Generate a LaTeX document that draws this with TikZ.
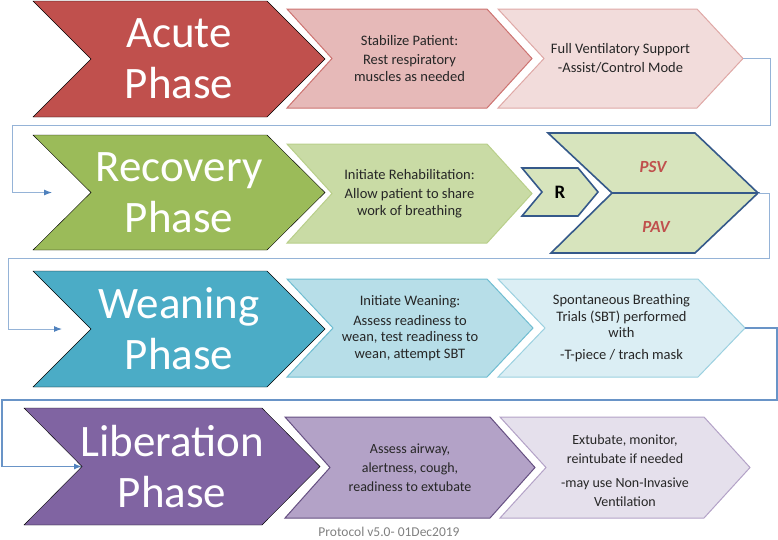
\documentclass[tikz,border=0pt]{standalone}
\usepackage{fontspec}
\setmainfont{Carlito}
\usetikzlibrary{arrows.meta,calc,positioning}

\definecolor{acuteRed}{HTML}{C0504D}
\definecolor{acuteMid}{HTML}{E6B9B8}
\definecolor{acuteLight}{HTML}{F2DCDB}
\definecolor{recGreen}{HTML}{9BBB59}
\definecolor{recMid}{HTML}{C9DBA5}
\definecolor{recLight}{HTML}{D7E4BD}
\definecolor{weanBlue}{HTML}{4BACC6}
\definecolor{weanMid}{HTML}{B7DEE8}
\definecolor{weanLight}{HTML}{DBEEF4}
\definecolor{libPurple}{HTML}{8064A2}
\definecolor{libMid}{HTML}{B3A2C7}
\definecolor{libLight}{HTML}{E5E0EC}
\definecolor{modeNavy}{HTML}{35598A}
\definecolor{linkBlue}{HTML}{95B3D7}
\definecolor{tipBlue}{HTML}{4F81BD}

% chevron: style, name, left x, top y, right x, bottom y, depth of point
\newcommand{\chevron}[7]{%
  \pgfmathsetmacro\midY{(#4+#6)/2}
  \pgfmathsetmacro\tipX{#5+#7}
  \draw[#1] (#3,#4) -- (#5,#4) -- (\tipX,\midY) -- (#5,#6) -- (#3,#6) -- ({#3+#7},\midY) -- cycle;
  \coordinate (#2-tip) at (\tipX,\midY);
  \coordinate (#2-mid) at ({(#3+\tipX)/2},\midY);
}

\tikzset{
  phasetext/.style={text=white, font=\fontsize{45}{51}\selectfont, align=center, inner sep=0pt},
  steptext/.style={text=black!85, font=\fontsize{14.5}{16.5}\selectfont, align=center, inner sep=0pt},
  libtext/.style={text=black!85, font=\fontsize{14}{19}\selectfont, align=center, inner sep=0pt},
  modetext/.style={text=acuteRed, font=\fontsize{17}{17}\selectfont\bfseries\itshape},
  acuteB/.style={fill=acuteMid, draw=acuteRed!80, line width=1pt},
  acuteC/.style={fill=acuteLight, draw=acuteRed!50, line width=1pt},
  recB/.style={fill=recMid, draw=recGreen!70, line width=1pt},
  modebox/.style={fill=recLight, draw=modeNavy, line width=1.6pt, line join=miter},
  weanB/.style={fill=weanMid, draw=weanBlue!80, line width=1pt},
  weanC/.style={fill=weanLight, draw=weanBlue!55, line width=1pt},
  libB/.style={fill=libMid, draw=libPurple!80!black, line width=1pt},
  libC/.style={fill=libLight, draw=libMid, line width=1pt},
  link/.style={draw=linkBlue, line width=1pt, -{Latex[length=8pt,width=6pt,color=tipBlue]}},
}

\begin{document}
\begin{tikzpicture}[x=1pt,y=-1pt]
\useasboundingbox (0,0) rectangle (778,539);

% draw the four phases
\def\phases{Acute/1/117/33/267/acute/acuteRed,
            Recovery/135/250/33/267/recovery/recGreen,
            Weaning/271/387/33/267/weaning/weanBlue,
            Liberation/408/525/24/262/liberation/libPurple}
\foreach \name/\yt/\yb/\xl/\xr/\id/\col in \phases
{
  \chevron{fill=\col}{\id}{\xl}{\yt}{\xr}{\yb}{58}
  \node[phasetext] (\id) at (\id-mid) {\name\\Phase};
}

% acute phase steps
\chevron{acuteB}{acuteB}{287}{9}{487}{108}{45}
\node[steptext] (stabilize) at (acuteB-mid) {Stabilize Patient:\\[3pt]Rest respiratory\\muscles as needed};
\chevron{acuteC}{acuteC}{498}{9}{697}{108}{46}
\node[steptext] (fullsupport) at (acuteC-mid) {Full Ventilatory Support\\[3pt]-Assist/Control Mode};

% recovery phase steps
\chevron{recB}{recB}{287}{144}{487}{243}{45}
\node[steptext] (rehab) at (recB-mid) {Initiate Rehabilitation:\\[3pt]Allow patient to share\\work of breathing};
\chevron{modebox}{rchev}{522}{168}{578}{216}{20}
\node[font=\fontsize{19}{19}\selectfont\bfseries, inner sep=0pt] (rmode) at (rchev-mid) {R};
\draw[modebox] (548,133) -- (695,133) -- (758,193) -- (612,193) -- cycle;
\draw[modebox] (612,193) -- (758,193) -- (695,253) -- (551,253) -- cycle;
\coordinate (mode-tip) at (758,193);
\node[modetext] (psv) at (653,167) {PSV};
\node[modetext] (pav) at (656,227) {PAV};

% weaning phase steps
\chevron{weanB}{weanB}{287}{279}{487}{377}{46}
\node[steptext] (initwean) at (weanB-mid) {Initiate Weaning:\\[3pt]Assess readiness to\\wean, test readiness to\\wean, attempt SBT};
\chevron{weanC}{weanC}{498}{279}{698}{377}{47}
\node[steptext] (sbt) at (weanC-mid) {Spontaneous Breathing\\Trials (SBT) performed\\with\\[5pt]-T-piece / trach mask};

% liberation phase steps
\chevron{libB}{libB}{285}{417}{490}{518}{45}
\node[libtext] (airway) at (libB-mid) {Assess airway,\\alertness, cough,\\readiness to extubate};
\chevron{libC}{libC}{500}{417}{704}{518}{46}
\node[libtext] (extubate) at ($(libC-mid)+(0,3)$) {Extubate, monitor,\\reintubate if needed\\[5pt]-may use Non-Invasive\\Ventilation};

% connectors between rows
\coordinate (recovery-in) at (52,192.5);
\coordinate (weaning-in) at (62,329);
\coordinate (liberation-in) at (82,466.5);
\draw[link] (acuteC-tip) -| (770,125) -- (12,125) |- (recovery-in);
\draw[link] (mode-tip) -| (769,258) -- (8,258) |- (weaning-in);
\draw[link, draw=tipBlue!85, line width=1.4pt] (weanC-tip) -| (777,400) -- (2,400) |- (liberation-in);

\node[text=black!50, font=\fontsize{13.5}{14}\selectfont] (version) at (389,532) {Protocol v5.0- 01Dec2019};
\end{tikzpicture}
\end{document}
